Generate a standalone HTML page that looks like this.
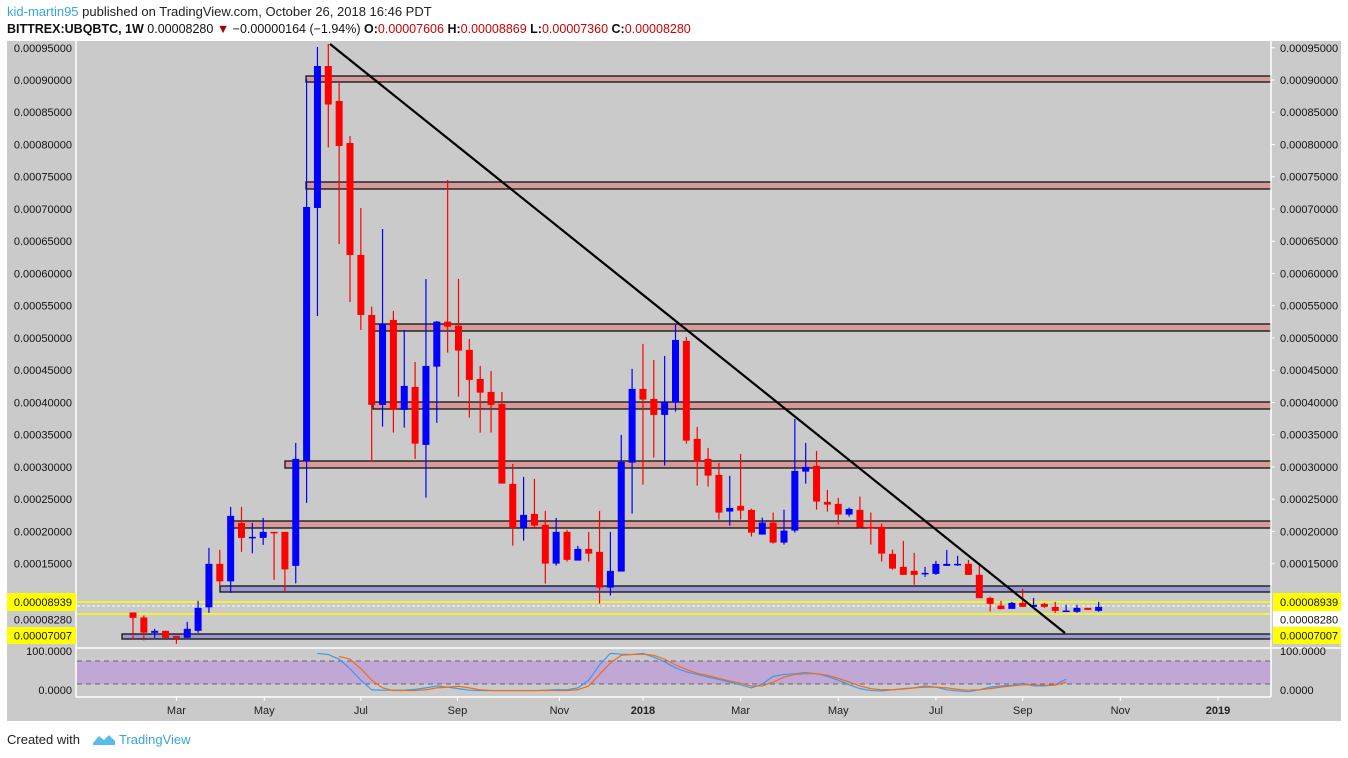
<!DOCTYPE html>
<html><head><meta charset="utf-8"><style>
body{margin:0;background:#fff;width:1348px;height:758px;overflow:hidden;font-family:"Liberation Sans",sans-serif}
#hdr1{position:absolute;left:7px;top:4px;font-size:13px;color:#222}
#hdr2{position:absolute;left:7px;top:22px;font-size:12.5px;color:#111}
#foot{position:absolute;left:7px;top:732px;font-size:13px;color:#222}
</style></head><body>
<div id="hdr1"><span style="color:#39a6db">kid-martin95</span> published on TradingView.com, October 26, 2018 16:46 PDT</div>
<div id="hdr2"><b>BITTREX:UBQBTC, 1W</b> 0.00008280 <span style="color:#a00">▼</span> −0.00000164 (−1.94%) <b>O:</b><span style="color:#c00">0.00007606</span> <b>H:</b><span style="color:#c00">0.00008869</span> <b>L:</b><span style="color:#c00">0.00007360</span> <b>C:</b><span style="color:#c00">0.00008280</span></div>
<svg id="chart" width="1348" height="758" style="position:absolute;left:0;top:0" font-family="Liberation Sans, sans-serif"></svg>
<div id="foot">Created with <span style="color:#39a6db;margin-left:8px"><svg width="24" height="14" style="vertical-align:-2px"><path d="M1 11 L7 4 L12 8 L17 3 L23 9 L23 13 L1 13Z" fill="#5bbbe8"/></svg> TradingView</span></div>
<script>
const ticks=[95000,90000,85000,80000,75000,70000,65000,60000,55000,50000,45000,40000,35000,30000,25000,20000,15000];
const timeLabels=["Mar","May","Jul","Sep","Nov","2018","Mar","May","Jul","Sep","Nov","2019"];
const timeWeeks=[4,12.1,21,29.9,39.3,47,56,65,74,82,91,100];
const opens=[7450,6670,4290,4600,3820,3510,4600,8240,14980,12270,21335,19010,19010,19940,19940,14670,30945,70160,92170,86745,80235,62875,53575,39625,52800,38850,42415,33425,45560,52535,51915,48150,43655,41640,39780,27380,20560,22730,21025,15025,19940,15490,17305,16840,11305,13790,30680,42105,40555,38075,39980,49545,34355,31255,28775,23090,23970,23350,19520,21380,18280,20140,29285,30170,24590,24280,22625,23350,20715,20715,16530,14515,13895,13430,13430,14670,14900,14980,13275,9710,8515,8005,8935,8315,8780,8315,7650,7540,8160,7695];
const highs=[7450,6970,4910,4600,3820,5990,9250,17460,17150,23810,23815,21335,22110,19940,19940,33735,90155,95115,95580,89535,81320,70160,54860,66905,54195,51250,46290,59155,52645,74500,59155,49855,45670,44895,41640,30480,28465,28155,23195,22110,20250,17770,19940,23195,19940,34975,45205,49080,46600,47220,52070,50165,36215,32960,30635,28620,32030,23550,22155,22930,23395,37455,33735,32495,26450,25210,23710,25415,22930,21225,17195,18545,16685,14515,15445,17150,16220,15600,14825,9915,9245,9090,11105,9710,8935,9090,8625,8625,8160,9090];
const lows=[3200,3130,3510,3510,2580,3510,4290,7390,11420,10490,16840,16610,17925,12500,10640,11960,24435,53420,79540,64580,55590,51250,30840,36260,35330,36110,31255,25255,36835,47730,40910,37660,35330,35330,27425,17815,18590,20405,11925,14715,15335,15490,15335,8825,10065,13790,22775,27270,31455,30215,38585,33625,27115,26960,21855,20915,21855,19215,19520,18125,17970,19830,27425,23395,23090,21070,22315,20455,17970,15335,14095,13275,11725,12965,13275,14670,14670,13275,9665,7590,7960,8005,8315,8160,8160,7385,7540,7385,7850,7540];
const closes=[6610,4320,4600,3510,3510,4910,8160,14980,12270,22420,19010,19165,19940,19785,14130,31255,70315,92170,86200,79770,62875,53575,39625,52180,38850,42570,33625,45670,52535,51760,48040,43500,41530,39625,27425,20560,22575,20915,15025,19940,15600,17305,16575,11305,13895,30790,42105,40445,38075,40090,49700,34090,30790,28665,22935,23660,23240,19830,21380,18280,20140,29395,30015,24640,24170,22625,23505,20610,20455,16575,14250,13275,13275,13585,14980,14980,14980,13275,9665,8780,7960,8935,8315,8625,8315,7695,7745,8160,7850,8315];
const stochK=[100,97,85,60,30,5,4,4,4,6,10,15,12,8,4,3,3,3,3,3,3,4,5,5,10,30,70,100,98,97,100,90,78,62,52,45,38,32,25,18,10,20,40,45,47,50,47,40,30,18,8,3,2,5,8,10,15,12,5,2,0,5,12,15,17,22,15,15,18,33];
const stochD=[null,null,92,85,60,30,10,3,3,3,5,10,12,14,10,5,3,3,3,3,3,3,3,3,5,15,45,75,95,97,98,95,85,70,58,48,42,35,28,22,15,15,25,38,45,47,47,43,35,25,15,8,5,5,7,10,12,12,10,6,4,5,8,12,15,18,18,17,17,25];
const oscStart=17;
const NS='http://www.w3.org/2000/svg',svg=document.getElementById('chart');
function el(t,a,p){const e=document.createElementNS(NS,t);for(const k in a)e.setAttribute(k,a[k]);(p||svg).appendChild(e);return e;}
const yP=p=>80+(90000-p)/155.04, xI=i=>133+i*10.85, yO=v=>691.7-v*0.383;
const fmt=s=>(s/1e8).toFixed(8);
let bg=el('rect',{x:7,y:41,width:1334,height:680,fill:'#cacaca'});


// osc band
let ob=el('rect',{x:77,y:661,width:1194,height:23,fill:'#c1a7d5'});


[661,684].forEach(y=>{let l=el('line',{x1:77,x2:1271,y1:y,y2:y,stroke:'#666','stroke-dasharray':'5,4'});

});
// zones
const zones=[[76,82,306,'#d59b9b'],[182,189,306,'#d59b9b'],[324,331,373,'#d59b9b'],[402,409,373,'#d59b9b'],[461,468,285,'#d59b9b'],[521,528,233,'#d59b9b'],[586,592,220,'#9b9bd0'],[634,639,122,'#9b9bd0']];
zones.forEach(z=>{let r=el('rect',{x:z[2],y:z[0],width:1271-z[2],height:z[1]-z[0],fill:z[3],stroke:'#111','stroke-width':1.3});

});
[602,614].forEach(y=>{let l=el('line',{x1:77,x2:1271,y1:y,y2:y,stroke:'#ffff00','stroke-width':1.5});

});
let dl=el('line',{x1:77,x2:1271,y1:606,y2:606,stroke:'#fff','stroke-dasharray':'3,2'});


// candles
for(let i=0;i<opens.length;i++){
 const up=closes[i]>=opens[i],c=up?'#0000ff':'#ff0000',x=xI(i);
 const g=el('g',{});
 
 
 el('line',{x1:x,x2:x,y1:yP(highs[i]),y2:yP(lows[i]),stroke:c,'stroke-width':1.2},g);
 const t=yP(Math.max(opens[i],closes[i])),b=yP(Math.min(opens[i],closes[i]));
 el('rect',{x:x-3.5,y:t,width:7,height:Math.max(1.5,b-t),fill:c},g);
}
let tl=el('line',{x1:330,y1:44,x2:1065,y2:633,stroke:'#000','stroke-width':2.2});


// stoch
function pth(arr,col,name){let d='';arr.forEach((v,j)=>{if(v==null)return;d+=(d?'L':'M')+xI(oscStart+j)+' '+yO(v)});
let p=el('path',{d:d,fill:'none',stroke:col,'stroke-width':1.2});

}
pth(stochK,'#3c9be8','stoch-k-line');pth(stochD,'#f26b1d','stoch-d-line');
// frame lines
[[76,41,76,697],[1271,41,1271,697],[76,648,1341,648],[76,697,1271,697]].forEach(a=>{let l=el('line',{x1:a[0],y1:a[1],x2:a[2],y2:a[3],stroke:'#fff','stroke-width':1.5});

});
// price axis labels
ticks.forEach(t=>{const y=yP(t);
let a=el('text',{x:72,y:y+4,'font-size':11,'text-anchor':'end',fill:'#111'});a.textContent=fmt(t);


let b=el('text',{x:1280,y:y+4,'font-size':11,fill:'#111'});b.textContent=fmt(t);


el('line',{x1:1271,x2:1275,y1:y,y2:y,stroke:'#fff'});});
let wb=el('rect',{x:1273,y:611,width:68,height:17,fill:'#fff'});


[[593,611,'0.00008939',true],[611,628,'0.00008280',false],[627,644,'0.00007007',true]].forEach(r=>{
 [[7,69,72,'end'],[1273,68,1280,'start']].forEach(s=>{
 if(r[3]){let bx=el('rect',{x:s[0],y:r[0],width:s[1],height:r[1]-r[0],fill:'#ffff00'});
 
 }
 let t=el('text',{x:s[2],y:(r[0]+r[1])/2+4,'font-size':11,'text-anchor':s[3],fill:'#111'});t.textContent=r[2];
 
 });});
[['100.0000',655],['0.0000',694]].forEach(o=>{
 let a=el('text',{x:72,y:o[1],'font-size':11,'text-anchor':'end',fill:'#111'});a.textContent=o[0];
 
 
 let b=el('text',{x:1280,y:o[1],'font-size':11,fill:'#111'});b.textContent=o[0];
 
 });
timeLabels.forEach((t,i)=>{const x=xI(timeWeeks[i]);
 el('line',{x1:x,x2:x,y1:697,y2:701,stroke:'#fff'});
 let a=el('text',{x:x,y:714,'font-size':11,'text-anchor':'middle',fill:'#222','font-weight':/^\d/.test(t)?'bold':'normal'});a.textContent=t;
 
 });
</script>
</body></html>
